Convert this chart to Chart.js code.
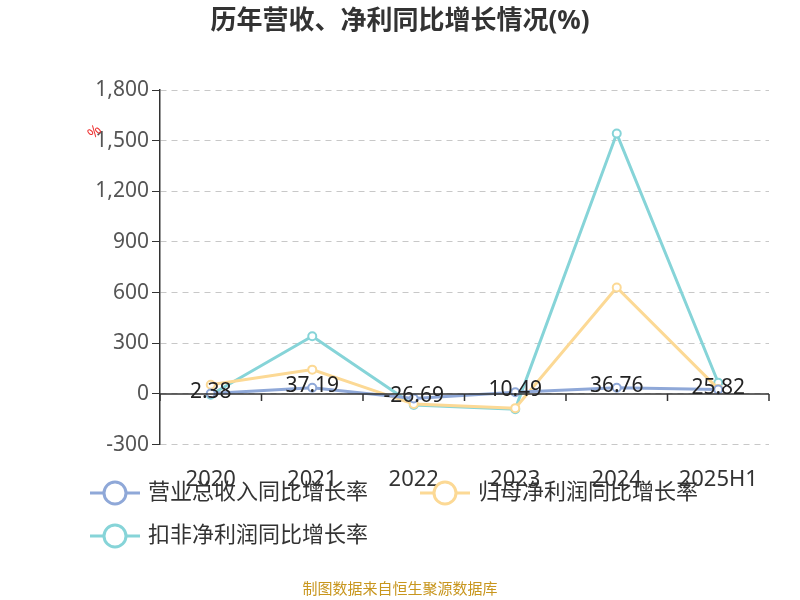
<!DOCTYPE html><html><head><meta charset="utf-8">
<script src="https://cdn.jsdelivr.net/npm/chart.js@4"></script>
<style>body{margin:0;background:#fff}#w{width:800px;height:600px}</style></head><body>
<div id="w"><canvas id="c" width="800" height="600"></canvas></div>
<script>
const categories=['2020','2021','2022','2023','2024','2025H1'];
const revenue=[2.38,37.19,-26.69,10.49,36.76,25.82];
const netProfit=[54,144,-60,-84,630,30];
const deducted=[-5,342,-66,-90,1542,66];
const names=['营业总收入同比增长率','归母净利润同比增长率','扣非净利润同比增长率'];
const colors=['#8fa8d8','#fcd995','#86d4d8'];
const F='"Noto Sans","Noto Sans CJK SC",sans-serif';
const deco={id:'deco',afterDraw(ch){
 const c=ch.ctx,ca=ch.chartArea,y=ch.scales.y;
 c.save();
 c.fillStyle='#333';c.font='bold 26px '+F;c.textAlign='center';c.textBaseline='middle';
 c.fillText('历年营收、净利同比增长情况(%)',400,22);
 const y0=y.getPixelForValue(0);
 c.strokeStyle='#333';c.lineWidth=1.5;c.beginPath();c.moveTo(ca.left,y0);c.lineTo(ca.right,y0);
 for(let i=0;i<=categories.length;i++){const px=ca.left+(ca.right-ca.left)*i/categories.length;c.moveTo(px,y0);c.lineTo(px,y0+7);}
 c.stroke();
 c.fillStyle='#222';c.font='21px '+F;
 const m=ch.getDatasetMeta(0);
 revenue.forEach((v,i)=>c.fillText(v.toFixed(2),m.data[i].x,m.data[i].y-2));
 c.save();c.translate(95,132);c.rotate(-Math.PI/4);c.fillStyle='#e33';c.font='15px '+F;c.fillText('%',0,0);c.restore();
 const pos=[[90,493],[420,493],[90,536]];
 c.font='22px '+F;c.textAlign='left';
 names.forEach((n,i)=>{const [lx,ly]=pos[i];c.strokeStyle=colors[i];c.lineWidth=3;c.beginPath();c.moveTo(lx,ly);c.lineTo(lx+50,ly);c.stroke();
  c.fillStyle='#fff';c.beginPath();c.arc(lx+25,ly,11,0,Math.PI*2);c.fill();c.stroke();
  c.fillStyle='#333';c.fillText(n,lx+58,ly);});
 c.fillStyle='#c8961e';c.font='15px '+F;c.textAlign='center';c.fillText('制图数据来自恒生聚源数据库',400,590);
 c.restore();}};
const ds=(d,i)=>({label:names[i],data:d,borderColor:colors[i],backgroundColor:'#fff',borderWidth:3,pointRadius:4,pointBorderWidth:2,pointBackgroundColor:'#fff',tension:0});
new Chart(document.getElementById('c'),{type:'line',data:{labels:categories,datasets:[ds(revenue,0),ds(netProfit,1),ds(deducted,2)]},
options:{responsive:false,animation:false,layout:{padding:{top:90,right:31,bottom:93,left:10}},
plugins:{legend:{display:false},tooltip:{enabled:false}},
scales:{x:{offset:true,grid:{display:false},border:{display:false},ticks:{color:'#333',font:{size:22,family:F},padding:14}},
y:{min:-300,max:1800,afterFit(s){s.width=150;},ticks:{stepSize:300,color:'#555',font:{size:21,family:F},callback:v=>v.toLocaleString('en-US')},
grid:{color:'#c8c8c8',tickColor:'#333',tickLength:8,drawTicks:true},border:{display:true,color:'#333',width:1.5,dash:[6,5]}}}},
plugins:[deco]});
</script></body></html>
